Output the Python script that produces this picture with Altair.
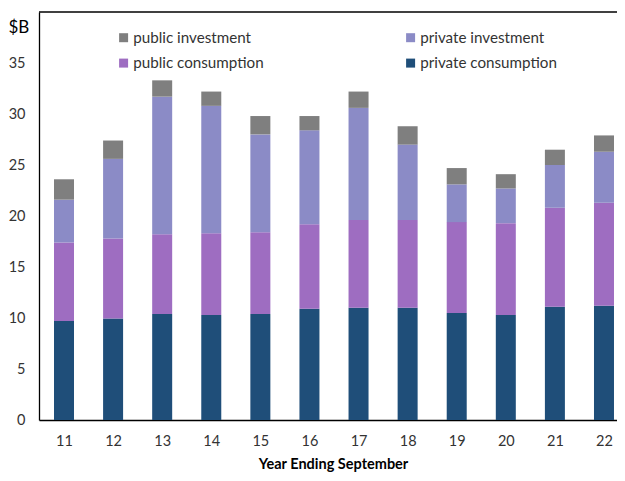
import altair as alt
import pandas as pd

years = [11, 12, 13, 14, 15, 16, 17, 18, 19, 20, 21, 22]
private_consumption = [9.7, 9.95, 10.4, 10.3, 10.4, 10.9, 11.0, 11.0, 10.5, 10.3, 11.1, 11.2]
public_consumption = [7.7, 7.85, 7.8, 8.0, 8.0, 8.3, 8.6, 8.6, 8.9, 9.0, 9.7, 10.1]
private_investment = [4.2, 7.8, 13.5, 12.5, 9.6, 9.2, 11.0, 7.4, 3.7, 3.4, 4.2, 5.0]
public_investment = [2.0, 1.8, 1.6, 1.4, 1.8, 1.4, 1.6, 1.8, 1.6, 1.4, 1.5, 1.6]

# legend fills column by column: col 1 = public, col 2 = private
series_names = ["public investment", "public consumption", "private investment", "private consumption"]
series_colors = ["#7f7f7f", "#9e6dc1", "#8b8bc6", "#1f4e79"]
stack_order = {"private consumption": 0, "public consumption": 1,
               "private investment": 2, "public investment": 3}
series_values = {
    "private consumption": private_consumption,
    "public consumption": public_consumption,
    "private investment": private_investment,
    "public investment": public_investment,
}

rows = []
for name, vals in series_values.items():
    for yr, v in zip(years, vals):
        rows.append({"year": yr, "series": name, "value": v, "ord": stack_order[name]})
df = pd.DataFrame(rows)

FONT = "Lato"

x_scale = alt.Scale(domain=[10.4907, 22.265], nice=False, zero=False, padding=0)
y_scale = alt.Scale(domain=[0, 40], nice=False)

bars = alt.Chart(df).mark_bar(width=20).encode(
    x=alt.X("year:Q", scale=x_scale,
            axis=alt.Axis(values=years, format="d", title="Year Ending September",
                          grid=False, ticks=False, labelPadding=14,
                          titleFontWeight="bold", titleY=48, titleBaseline="alphabetic",
                          titleX=294, titleAnchor="start", titleAlign="center",
                          domainColor="#000000", domainWidth=1.3)),
    y=alt.Y("value:Q", stack="zero", scale=y_scale,
            axis=alt.Axis(values=[0, 5, 10, 15, 20, 25, 30, 35], grid=False, ticks=False,
                          labelPadding=14, title="$B", titleAngle=0, titleAlign="left",
                          titleX=-31, titleY=15, titleBaseline="middle", titleFontSize=17,
                          titleFontWeight="normal",
                          domainColor="#000000", domainWidth=1.3)),
    color=alt.Color("series:N",
                    scale=alt.Scale(domain=series_names, range=series_colors),
                    legend=alt.Legend(title=None, orient="none", legendX=77, legendY=18,
                                      columns=2, columnPadding=139, rowPadding=9.5,
                                      symbolType="square", symbolSize=81,
                                      symbolStrokeWidth=0, labelOffset=2,
                                      labelFontSize=15.2, labelFont=FONT,
                                      labelColor="#333333")),
    order=alt.Order("ord:Q"),
)

top_line = alt.Chart(pd.DataFrame({"v": [40]})).mark_rule(
    color="#000000", strokeWidth=1.3).encode(y=alt.Y("v:Q", scale=y_scale))

chart = alt.layer(bars, top_line).properties(
    width=578, height=408,
    autosize=alt.AutoSizeParams(type="none"),
    padding={"left": 31, "top": 4, "right": 0, "bottom": 53},
).configure_view(stroke=None).configure_axis(
    labelFont=FONT, titleFont=FONT, labelFontSize=14.5, titleFontSize=14.5,
    labelColor="#333333", titleColor="#000000",
)

chart.save("out.html", embed_options={"renderer": "svg", "actions": False})
